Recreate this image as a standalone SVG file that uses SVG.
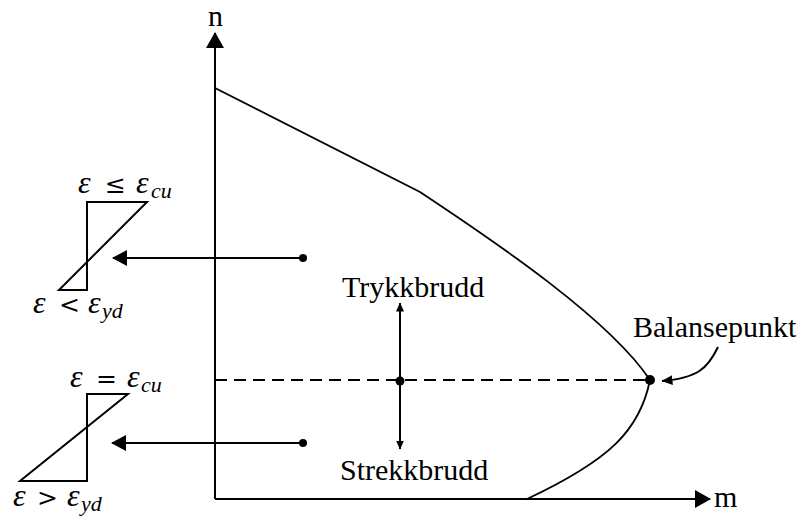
<svg xmlns="http://www.w3.org/2000/svg" width="809" height="517" viewBox="0 0 809 517">
<style>
.ln{fill:none;stroke:#000;stroke-width:2}
.cv{fill:none;stroke:#000;stroke-width:1.8}
.lbl{font-family:"Liberation Serif","Times New Roman",serif;font-size:30px;fill:#000}
.m{font-family:"Liberation Serif","Times New Roman",serif;font-size:32px;fill:#000}
.mi{font-style:italic}
.rel{font-family:"DejaVu Serif","Liberation Serif",serif;font-size:25px}
.sub{font-family:"Liberation Serif","Times New Roman",serif;font-size:22px;font-style:italic;fill:#000}
</style>
<defs>
<marker id="big" markerWidth="16" markerHeight="18" refX="15" refY="9" orient="auto" markerUnits="userSpaceOnUse"><path d="M0,0 L16,9 L0,18 Z" fill="#000"/></marker>
<marker id="mid" markerWidth="15" markerHeight="16" refX="14" refY="8" orient="auto" markerUnits="userSpaceOnUse"><path d="M0,0 L15,8 L0,16 Z" fill="#000"/></marker>
<marker id="sm" markerWidth="9" markerHeight="8" refX="8.5" refY="4" orient="auto" markerUnits="userSpaceOnUse"><path d="M0,0 L9,4 L0,8 Z" fill="#000"/></marker>
<marker id="sm2" markerWidth="11" markerHeight="10" refX="10.5" refY="5" orient="auto" markerUnits="userSpaceOnUse"><path d="M0,0 L11,5 L0,10 Z" fill="#000"/></marker>
</defs>
<g id="axes">
<line class="ln" x1="215" y1="499" x2="215" y2="33" marker-end="url(#big)"/>
<line class="ln" x1="215" y1="499" x2="710" y2="499" marker-end="url(#big)"/>
<text class="lbl" x="208" y="26">n</text>
<text class="lbl" x="714" y="507">m</text>
</g>
<g id="curve">
<path class="cv" d="M215,88 L420,192 C500,245 610,320 650,380 C640,430 610,460 527,499"/>
</g>
<g id="connectors">
<line x1="215" y1="380" x2="650" y2="380" stroke="#000" stroke-width="2" stroke-dasharray="12 7"/>
<line class="ln" x1="400" y1="381" x2="400" y2="303" marker-end="url(#sm)"/>
<line class="ln" x1="400" y1="381" x2="400" y2="449" marker-end="url(#sm)"/>
<line class="ln" x1="303" y1="258" x2="113" y2="258" marker-end="url(#mid)"/>
<line class="ln" x1="303" y1="443" x2="112" y2="443" marker-end="url(#mid)"/>
<path class="ln" d="M718,347 C708,368 698,378 662,381" marker-end="url(#sm2)"/>
</g>
<g id="points">
<circle cx="303" cy="258" r="4"/>
<circle cx="303" cy="443" r="4"/>
<circle cx="400" cy="381" r="4.5"/>
<circle cx="650" cy="380" r="5"/>
</g>
<g id="labels">
<text class="lbl" x="342" y="297">Trykkbrudd</text>
<text class="lbl" x="340" y="480">Strekkbrudd</text>
<text class="lbl" x="633" y="337">Balansepunkt</text>
</g>
<g id="strain-top">
<path class="ln" d="M147,202 L87,202 L87,290 L59,290 Z"/>
<text class="m" y="193"><tspan class="mi" x="78">ε</tspan><tspan class="rel" x="105">≤</tspan><tspan class="mi" x="136">ε</tspan></text>
<text class="sub" x="151" y="198">cu</text>
<text class="m" y="313"><tspan class="mi" x="33">ε</tspan><tspan class="rel" x="59">&lt;</tspan><tspan class="mi" x="88">ε</tspan></text>
<text class="sub" x="102" y="318">yd</text>
</g>
<g id="strain-bottom">
<path class="ln" d="M128,394 L87,394 L87,481 L20,481 Z"/>
<text class="m" y="387"><tspan class="mi" x="70">ε</tspan><tspan class="rel" x="96">=</tspan><tspan class="mi" x="127">ε</tspan></text>
<text class="sub" x="141" y="392">cu</text>
<text class="m" y="506"><tspan class="mi" x="13">ε</tspan><tspan class="rel" x="37">&gt;</tspan><tspan class="mi" x="67">ε</tspan></text>
<text class="sub" x="81" y="511">yd</text>
</g>
</svg>
